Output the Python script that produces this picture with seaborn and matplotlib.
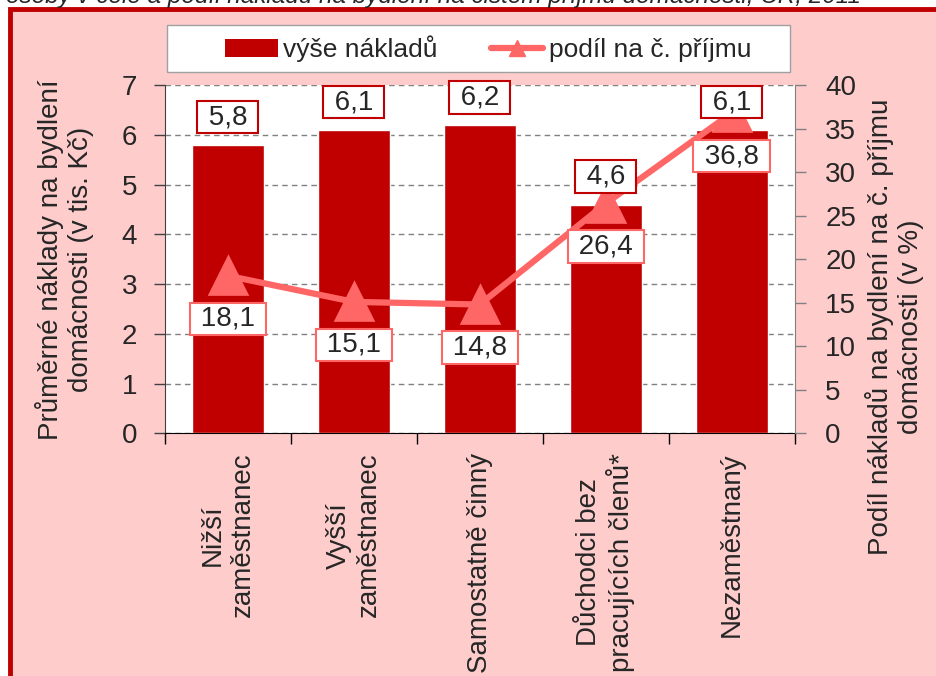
import seaborn as sns
import pandas as pd
import numpy as np
import matplotlib.pyplot as plt
from matplotlib.patches import Patch, Rectangle
from matplotlib.lines import Line2D

# values
categories = ["Nižší\nzaměstnanec", "Vyšší\nzaměstnanec", "Samostatně činný",
              "Důchodci bez\npracujících členů*", "Nezaměstnaný"]
costs = [5.8, 6.1, 6.2, 4.6, 6.1]        # průměrné náklady, tis. Kč
share = [18.1, 15.1, 14.8, 26.4, 36.8]   # podíl na č. příjmu, %

title = "osoby v čele a podíl nákladů na bydlení na čistém příjmu domácnosti, ČR, 2011"

bar_red = "#C00000"
line_red = "#FF6666"
pink = "#FFCCCC"

sns.set_style("ticks")
plt.rcParams['font.family'] = ['Liberation Sans', 'DejaVu Sans']
plt.rcParams['font.size'] = 20

df = pd.DataFrame({"typ": categories, "naklady": costs, "podil": share})

fig = plt.figure(figsize=(9.37, 6.76), dpi=100)
fig.patch.set_facecolor("white")

# pink panel with red frame (cut at right and bottom)
fig.add_artist(Rectangle((0.0112, -0.5), 1.5, 1.486, transform=fig.transFigure,
                         facecolor=pink, edgecolor=bar_red, linewidth=3.5, zorder=-10))

# title line, mostly cut off at the top (as in the source)
fig.text(0.006, 1 - 3.5 / 676, title, style="italic", fontsize=17.5, ha="left",
         va="baseline")

ax = fig.add_axes([0.176, 0.359, 0.672, 0.515])
ax.set_facecolor("white")

sns.barplot(data=df, x="typ", y="naklady", color=bar_red, saturation=1,
            width=0.57, ax=ax)

ax2 = ax.twinx()
sns.pointplot(data=df, x="typ", y="podil", color=line_red, markers="^",
              markersize=24, linewidth=4.5, ax=ax2)

# left axis
ax.set_ylim(0, 7)
ax.set_yticks(range(0, 8))
ax.set_axisbelow(True)
ax.yaxis.grid(True, linestyle=(0, (4, 3)), color="#808080", linewidth=1)
ax.tick_params(axis="y", direction="out", length=8, width=1, color="#404040",
               pad=12, labelsize=20)
ax.spines["left"].set_color("#404040")
ax.spines["bottom"].set_color("black")
ax.spines["top"].set_visible(False)
ax.spines["right"].set_visible(False)

# x axis: labels at centres, ticks between categories
ax.set_xlim(-0.5, len(categories) - 0.5)
ax.set_xticks(range(len(categories)))
ax.set_xticklabels(categories, rotation=90, va="top", ha="center",
                   multialignment="center", fontsize=20)
ax.set_xticks(np.arange(-0.5, len(categories), 1), minor=True)
ax.tick_params(axis="x", which="major", length=0, pad=14)
ax.tick_params(axis="x", which="minor", length=8, width=1, color="black",
               direction="out")
ax.set_xlabel("")

# right axis
ax2.set_ylim(0, 40)
ax2.set_yticks(range(0, 41, 5))
ax2.tick_params(axis="y", direction="out", length=8, width=1, color="#808080",
                pad=14, labelsize=20)
for s in ["top", "left", "bottom"]:
    ax2.spines[s].set_visible(False)
ax2.spines["right"].set_color("#808080")

ax.set_ylabel("Průměrné náklady na bydlení\ndomácnosti (v tis. Kč)",
              fontsize=20, va="center")
ax.yaxis.set_label_coords(-0.16, 0.5)
ax2.set_ylabel("Podíl nákladů na bydlení na č. příjmu\ndomácnosti (v %)",
               fontsize=20, rotation=90, va="center")
ax2.yaxis.set_label_coords(1.158, 0.305)

# data labels
for i, s in enumerate(share):
    ax2.annotate(f" {s:.1f} ".replace(".", ","), xy=(i, s), xytext=(0, -31),
                 textcoords="offset points", ha="center", va="center", fontsize=20,
                 bbox=dict(boxstyle="square,pad=0.12", fc="white", ec=line_red, lw=1.5),
                 zorder=6)
for i, v in enumerate(costs):
    ax2.annotate(f" {v:.1f} ".replace(".", ","), xy=(i, v), xycoords=ax.transData,
                 xytext=(0, 20), textcoords="offset points", ha="center", va="center",
                 fontsize=20,
                 bbox=dict(boxstyle="square,pad=0.12", fc="white", ec=bar_red, lw=1.5),
                 zorder=7)

# legend in white box on top
fig.add_artist(Rectangle((167 / 937, 1 - 72 / 676), (790 - 167) / 937, 47 / 676,
                         transform=fig.transFigure, facecolor="white",
                         edgecolor="#A0A0A0", linewidth=1))
handles = [Patch(facecolor=bar_red, edgecolor="none", label="výše nákladů"),
           Line2D([], [], color=line_red, lw=4.5, marker="^", markersize=12,
                  label="podíl na č. příjmu")]
fig.legend(handles=handles, loc="center", bbox_to_anchor=(0.521, 0.928), ncol=2,
           frameon=False, fontsize=19, handlelength=2.0, handletextpad=0.2,
           columnspacing=2.0)

fig.savefig("out.png", dpi=100, facecolor=fig.get_facecolor())
